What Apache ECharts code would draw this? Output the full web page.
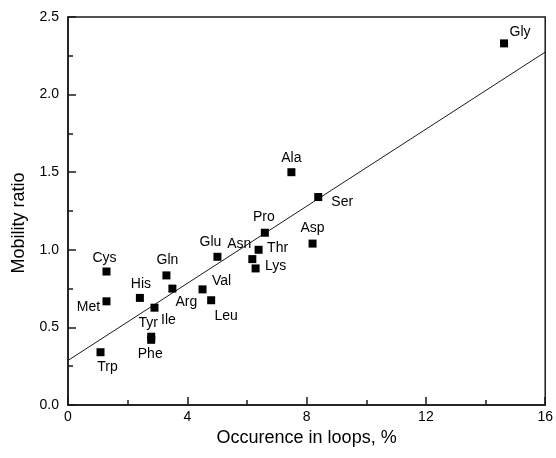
<!DOCTYPE html>
<html>
<head>
    <meta charset="utf-8">
    <title>Mobility ratio vs occurence in loops</title>
    <script src="https://cdn.jsdelivr.net/npm/echarts@6/dist/echarts.min.js"></script>
    <style>
        html, body { margin: 0; padding: 0; background: #fff; }
        #main { width: 556px; height: 458px; }
    </style>
</head>
<body>
    <div id="main"></div>
    <script>
        // amino acids
        const names = ['Gly', 'Ala', 'Ser', 'Asp', 'Pro', 'Thr', 'Asn', 'Lys', 'Glu', 'Val',
                       'Leu', 'Arg', 'Gln', 'His', 'Ile', 'Tyr', 'Phe', 'Cys', 'Met', 'Trp'];
        const occurrence = [14.62, 7.49, 8.39, 8.20, 6.60, 6.39, 6.18, 6.29, 5.01, 4.51,
                            4.80, 3.50, 3.30, 2.41, 2.90, 2.79, 2.79, 1.29, 1.29, 1.09];
        const mobility = [2.33, 1.50, 1.34, 1.04, 1.11, 1.00, 0.94, 0.88, 0.955, 0.745,
                          0.675, 0.75, 0.835, 0.69, 0.627, 0.44, 0.42, 0.86, 0.668, 0.34];

        // linear fit, end points
        const fitX = [0, 16];
        const fitY = [0.287, 2.274];

        const xTicks = [0, 4, 8, 12, 16];
        const yTicks = [0, 0.5, 1.0, 1.5, 2.0, 2.5];

        // where each label sits relative to its square (px)
        const labelOffsets = {
            Gly: [16, -11], Ala: [0, -14], Ser: [24, 5], Asp: [0, -15], Pro: [-1, -16],
            Thr: [19, -2], Asn: [-13, -15], Lys: [20, -2], Glu: [-7, -15], Val: [19, -8],
            Leu: [15, 16], Arg: [14, 14], Gln: [1, -15], His: [1, -14], Ile: [14, 12],
            Tyr: [-3, -14], Phe: [-1, 14], Cys: [-2, -13], Met: [-18, 6], Trp: [7, 15]
        };

        const chart = echarts.init(document.getElementById('main'));
        const axisColor = '#1a1a1a';
        const font = 'Liberation Sans, Arial, sans-serif';

        const points = names.map((n, i) => ({
            name: n,
            value: [occurrence[i], mobility[i]],
            label: { offset: labelOffsets[n] }
        }));

        chart.setOption({
            animation: false,
            textStyle: { fontFamily: font },
            grid: { left: 68, right: 10, top: 17, bottom: 53, show: true, borderColor: axisColor, borderWidth: 1.5 },
            xAxis: {
                type: 'value',
                min: xTicks[0],
                max: xTicks[xTicks.length - 1],
                interval: 4,
                name: 'Occurence in loops, %',
                nameLocation: 'middle',
                nameGap: 22,
                nameTextStyle: { fontSize: 18, color: '#000', fontFamily: font },
                axisLine: { onZero: false, lineStyle: { color: axisColor, width: 1.5 } },
                axisTick: { inside: true, length: 8, lineStyle: { color: axisColor, width: 1.5 } },
                minorTick: { show: true, splitNumber: 2, length: 5, lineStyle: { color: axisColor, width: 1.5 } },
                axisLabel: { fontSize: 14, color: '#000', margin: 5, fontFamily: font },
                splitLine: { show: false }
            },
            yAxis: {
                type: 'value',
                min: yTicks[0],
                max: yTicks[yTicks.length - 1],
                interval: 0.5,
                name: 'Mobility ratio',
                nameLocation: 'middle',
                nameGap: 40,
                nameTextStyle: { fontSize: 18, color: '#000', fontFamily: font, padding: [0, 24, 0, 0] },
                axisLine: { show: true, onZero: false, lineStyle: { color: axisColor, width: 1.5 } },
                axisTick: { show: true, inside: true, length: 8, lineStyle: { color: axisColor, width: 1.5 } },
                minorTick: { show: true, splitNumber: 2, length: 5, lineStyle: { color: axisColor, width: 1.5 } },
                axisLabel: { fontSize: 14, color: '#000', margin: 9, fontFamily: font,
                             formatter: v => v.toFixed(1) },
                splitLine: { show: false }
            },
            series: [
                {
                    type: 'line',
                    data: fitX.map((x, i) => [x, fitY[i]]),
                    symbol: 'none',
                    lineStyle: { color: '#1a1a1a', width: 1 },
                    silent: true,
                    z: 1
                },
                {
                    type: 'scatter',
                    data: points,
                    symbol: 'rect',
                    symbolSize: 8,
                    itemStyle: { color: '#000', opacity: 1 },
                    label: {
                        show: true,
                        position: 'inside',
                        formatter: '{b}',
                        fontSize: 14,
                        color: '#000',
                        opacity: 1,
                        fontFamily: font
                    },
                    z: 2
                }
            ]
        });

        window.addEventListener('resize', function () {
            chart.resize();
        });
    </script>
</body>
</html>
